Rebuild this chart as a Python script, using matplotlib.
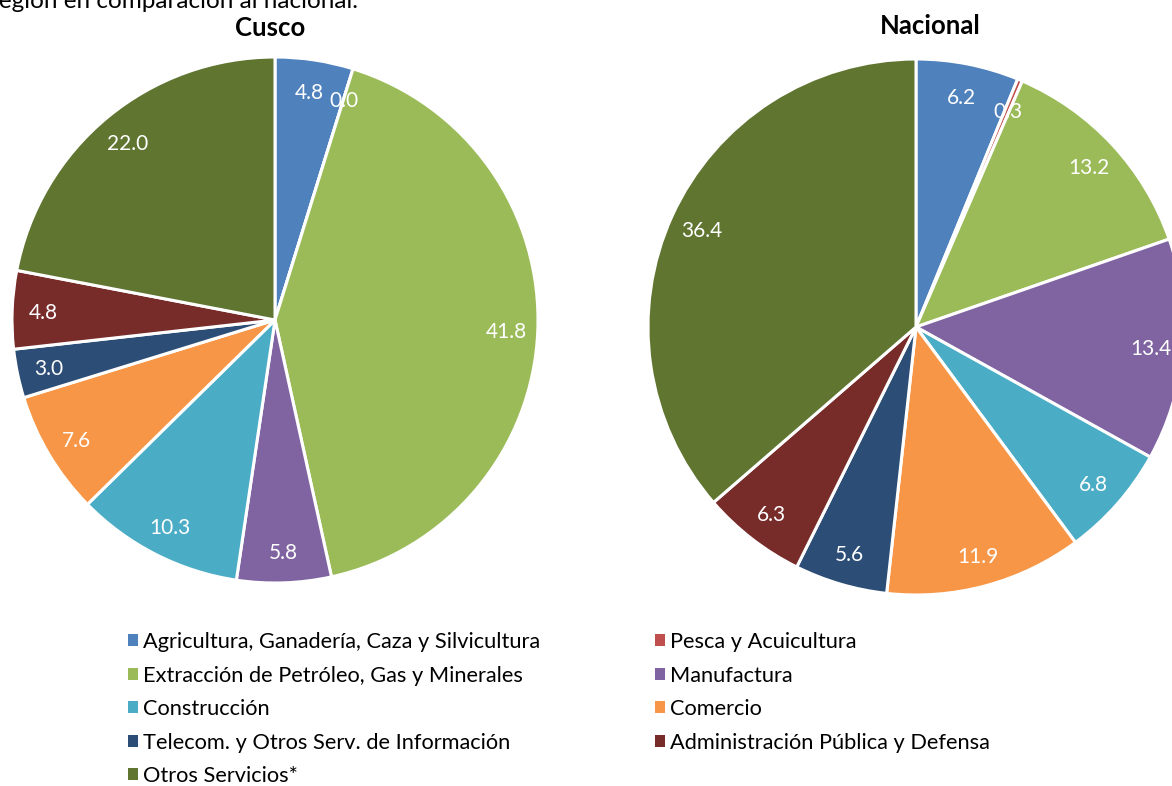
import matplotlib.pyplot as plt
import matplotlib
import numpy as np
from matplotlib.patches import Patch

matplotlib.rcParams["font.family"] = ["Lato", "DejaVu Sans"]

sectores = [
    "Agricultura, Ganadería, Caza y Silvicultura",
    "Pesca y Acuicultura",
    "Extracción de Petróleo, Gas y Minerales",
    "Manufactura",
    "Construcción",
    "Comercio",
    "Telecom. y Otros Serv. de Información",
    "Administración Pública y Defensa",
    "Otros Servicios*",
]
cusco = [4.8, 0.0, 41.8, 5.8, 10.3, 7.6, 3.0, 4.8, 22.0]
nacional = [6.2, 0.3, 13.2, 13.4, 6.8, 11.9, 5.6, 6.3, 36.4]

colores = ["#4F81BD", "#C0504D", "#9BBB59", "#8064A2", "#4BACC6",
           "#F79646", "#2C4D75", "#772C2A", "#5F7530"]

W, H = 1172, 786
fig = plt.figure(figsize=(W / 100, H / 100), dpi=100)


def pie_axes(cx, cy, r):
    # axes box in pixels -> figure fraction, pie of radius 1 filling it
    return fig.add_axes([(cx - r) / W, (H - cy - r) / H, 2 * r / W, 2 * r / H])


def draw_pie(ax, valores, titulo, title_xy):
    wedges, _ = ax.pie(valores, colors=colores, startangle=90, counterclock=False,
                       radius=1, wedgeprops=dict(edgecolor="white", linewidth=2.2))
    for w, v in zip(wedges, valores):
        ang = np.deg2rad((w.theta1 + w.theta2) / 2)
        d = 0.88
        ax.text(d * np.cos(ang), d * np.sin(ang), f"{v:.1f}", color="white",
                fontsize=15, ha="center", va="center_baseline")
    ax.set_xlim(-1, 1)
    ax.set_ylim(-1, 1)
    ax.set_aspect("equal")
    ax.axis("off")
    ax.text(title_xy[0], title_xy[1], titulo, fontsize=18.5, fontweight="bold",
            ha="center", va="center", clip_on=False)
    return wedges


ax1 = pie_axes(275, 320, 263)
draw_pie(ax1, cusco, "Cusco", (-0.02, 1.11))
ax2 = pie_axes(916, 327, 268)
draw_pie(ax2, nacional, "Nacional", (0.052, 1.125))

# text from the paragraph above, partly cut off at the top
fig.text(-10 / W, 1 - 2 / H, "región en comparación al nacional.", fontsize=17.5,
         ha="left", va="center")

handles = [Patch(facecolor=c) for c in colores]
leg_kw = dict(frameon=False, fontsize=15.7, handlelength=0.48, handleheight=0.48,
              handletextpad=0.2, labelspacing=0.62, borderpad=0, borderaxespad=0)
izq = [0, 2, 4, 6, 8]
der = [1, 3, 5, 7]
fig.legend([handles[i] for i in izq], [sectores[i] for i in izq],
           loc="upper left", bbox_to_anchor=(128 / W, 1 - 632 / H), **leg_kw)
fig.legend([handles[i] for i in der], [sectores[i] for i in der],
           loc="upper left", bbox_to_anchor=(655 / W, 1 - 632 / H), **leg_kw)

fig.savefig("out.png", dpi=100)
